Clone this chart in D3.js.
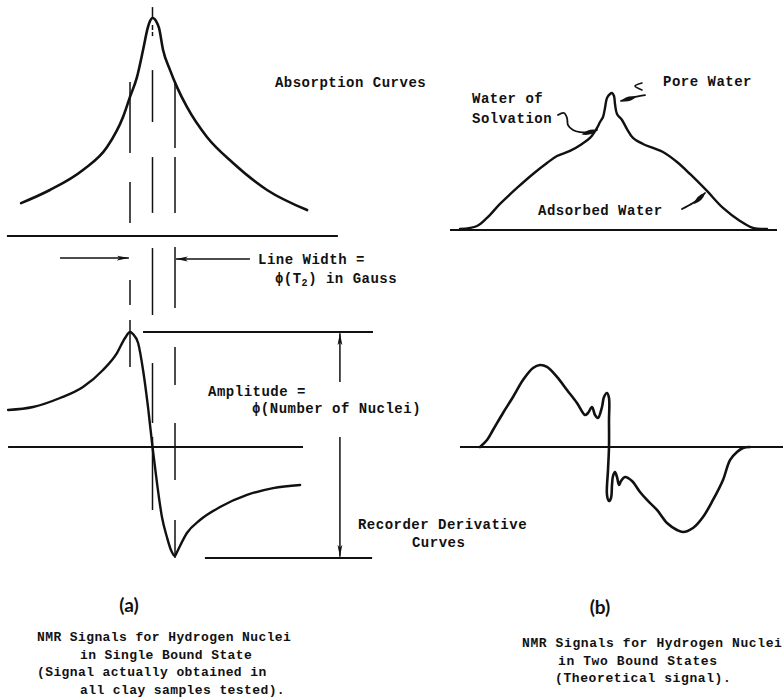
<!DOCTYPE html>
<html>
<head>
<meta charset="utf-8">
<script src="https://cdn.jsdelivr.net/npm/d3@7"></script>
<style>
  html, body { margin: 0; padding: 0; background: #fff; }
  svg { display: block; }
  text { font-family: "Liberation Mono", "DejaVu Sans Mono", monospace; font-weight: bold; fill: #111; }
</style>
</head>
<body>
<svg id="fig" width="783" height="699"></svg>
<script>
// ---------- (a) single bound state ----------
// field offset in line-width units, relative intensity (%)
const absorptionA = [
  [-5.84, 15.1], [-4.56, 21.1], [-3.09, 30.3], [-2.02, 40.8], [-1.31, 54.6],
  [-1.0, 63.8], [-0.69, 72.9], [-0.42, 85.3], [-0.2, 95.9], [-0.11, 98.6],
  [0, 100], [0.16, 98.6], [0.29, 95.4], [0.47, 85.3], [0.78, 76.1],
  [1.09, 68.3], [1.53, 59.2], [2.42, 45.4], [3.58, 33.5], [5.09, 21.1], [6.87, 11.9]
];
// recorder derivative of the same line (% of peak amplitude)
const derivativeA = [
  [-6.42, 32.2], [-5.31, 34.8], [-4.11, 42.6], [-3.09, 52.2], [-2.2, 67.0],
  [-1.58, 81.7], [-1.22, 94.8], [-1.0, 100], [-0.87, 98.3], [-0.64, 90.4],
  [-0.42, 67], [-0.2, 34.8], [0, 0], [0.2, -31.3], [0.42, -60.9],
  [0.64, -78.3], [0.82, -89.6], [1.0, -94.8], [1.09, -91.3], [1.53, -74.8],
  [2.11, -63.5], [3.0, -52.2], [4.2, -41.7], [5.36, -35.7], [6.56, -33.0]
];
// broken guide lines at the half-width points and the line centre
const guidesAbsA = [
  { at: -1, spans: [[70.6, 38.1], [24.8, 6.0]] },
  { at: 0,  spans: [[105, 99.5], [96.8, 94.5], [93.6, 91.7], [76.1, 52.3], [36.2, 10.6]] },
  { at: 1,  spans: [[70.2, 40.4], [36.2, 10.6]] }
];
const guidesDerA = [
  { at: -1, spans: [[145.2, 123.5], [110.4, 69.6]] },
  { at: 0,  spans: [[173, 114.8], [73, 20.9], [8.7, -54.8]] },
  { at: 1,  spans: [[173.9, 120.9], [87, 53.9], [20.9, -28.7], [-63.5, -96.5]] }
];

// ---------- (b) two bound states ----------
const absorptionB = [
  [-15, 0.7], [-13.3, 2.9], [-12.3, 8.8], [-11, 19], [-9.3, 30.7], [-7.7, 40.9],
  [-6.3, 48.9], [-5.3, 54], [-4, 57.7], [-2.8, 62.8], [-2.0, 67.2], [-1.3, 74.5],
  [-1.0, 78.8], [-0.7, 82.5], [-0.5, 89.1], [-0.3, 96.4], [0, 99.3], [0.2, 100],
  [0.4, 97.8], [0.5, 92], [0.7, 84.7], [1.2, 80.3], [1.7, 73.7], [2.3, 67.2],
  [3.3, 62.8], [4.3, 59.9], [5.3, 56.9], [6.7, 49.6], [8.0, 40.9], [9.7, 28.5],
  [11.3, 16.1], [13.0, 6.6], [14.3, 1.5], [15.7, 0.7]
];
const derivativeB = [
  [-13, 0], [-12.3, 8.5], [-11.7, 20.7], [-10.7, 41.5], [-9.7, 61], [-8.7, 81.7],
  [-7.7, 96.3], [-7.0, 100], [-6.3, 97.6], [-5.3, 85.4], [-4.3, 69.5], [-3.3, 53.7],
  [-2.5, 39], [-2.2, 41.5], [-1.8, 48.8], [-1.5, 39], [-1.2, 35.4], [-0.8, 48.8],
  [-0.6, 61], [-0.3, 65.9], [-0.1, 59.8], [-0.1, 32.9], [-0.1, 0], [-0.2, -28],
  [-0.3, -58.5], [-0.1, -65.9], [0.1, -62.2], [0.2, -46.3], [0.3, -35.4], [0.5, -30.5],
  [0.7, -36.6], [0.9, -46.3], [1.1, -41.5], [1.5, -36.6], [2.2, -41.5], [3.0, -54.9],
  [3.7, -64.6], [4.7, -76.8], [5.7, -92.7], [6.7, -101.2], [7.3, -103.7], [8.3, -98.8],
  [9.3, -85.4], [10.3, -64.6], [11.3, -40.2], [12.0, -15.9], [12.7, -6.1], [13.3, -1.2], [14.0, 0]
];
// hand-drawn leader lines pointing at the three water components
const leaderPore = [[3.5, 98.5], [2.5, 97.1], [1.8, 95.6], [1.1, 94.2]];
const tickPore = [[3.2, 107.3], [2.5, 105.1], [3.2, 102.2]];
const leaderSolvation = [[-5.2, 83.9], [-4.6, 85.4], [-4.3, 81.8], [-4.2, 76.6], [-3.7, 73], [-3.0, 71.5], [-2.0, 71.5], [-1.3, 73]];
const leaderAdsorbed = [[7.2, 15.3], [8.3, 19.7], [9.0, 23.4], [9.5, 27]];

const captionA = ["NMR Signals for Hydrogen Nuclei", "in Single Bound State", "(Signal actually obtained in", "all clay samples tested)."];
const captionB = ["NMR Signals for Hydrogen Nuclei", "in Two Bound States", "(Theoretical signal)."];

// ---------- scales ----------
const xA = d3.scaleLinear().domain([-1, 1]).range([130, 175]);
const yAbsA = d3.scaleLinear().domain([0, 100]).range([236, 18]);
const yDerA = d3.scaleLinear().domain([-100, 100]).range([562, 332]);
const xB = d3.scaleLinear().domain([-15, 15]).range([460, 760]);
const yAbsB = d3.scaleLinear().domain([0, 100]).range([230, 93]);
const yDerB = d3.scaleLinear().domain([-100, 100]).range([529, 365]);

const svg = d3.select("#fig");
const ink = "#111";

svg.append("defs").append("marker")
  .attr("id", "head").attr("viewBox", "0 0 12 6").attr("refX", 12).attr("refY", 3)
  .attr("markerWidth", 12).attr("markerHeight", 6).attr("markerUnits", "userSpaceOnUse")
  .attr("orient", "auto")
  .append("path").attr("d", "M0,0.6 L12,3 L0,5.4 L3,3 z").attr("fill", ink);

function curve(data, x, y, width, shape) {
  const gen = d3.line().x(d => x(d[0])).y(d => y(d[1]))
    .curve(shape || d3.curveCatmullRom.alpha(0.5));
  return svg.append("path").datum(data).attr("d", gen)
    .attr("fill", "none").attr("stroke", ink).attr("stroke-width", width)
    .attr("stroke-linejoin", "round").attr("stroke-linecap", "round");
}
function hline(v, u0, u1, x, y, width) {
  return svg.append("line").attr("x1", x(u0)).attr("x2", x(u1)).attr("y1", y(v)).attr("y2", y(v))
    .attr("stroke", ink).attr("stroke-width", width);
}
function vline(u, v0, v1, x, y, width) {
  return svg.append("line").attr("x1", x(u)).attr("x2", x(u)).attr("y1", y(v0)).attr("y2", y(v1))
    .attr("stroke", ink).attr("stroke-width", width);
}
function label(str, u, v, x, y, size) {
  return svg.append("text").attr("x", x(u)).attr("y", y(v)).attr("font-size", size || 14)
    .attr("letter-spacing", 0.5).text(str);
}
// filled tear-drop arrowhead at the end of a leader line
function leader(pts, x, y) {
  curve(pts, x, y, 1.8);
  const n = pts.length;
  const tx = x(pts[n - 1][0]), ty = y(pts[n - 1][1]);
  const px = x(pts[n - 2][0]), py = y(pts[n - 2][1]);
  const len = Math.hypot(tx - px, ty - py) || 1;
  const dx = (tx - px) / len, dy = (ty - py) / len;
  const nx = -dy, ny = dx;
  const mx = tx - dx * 7, my = ty - dy * 7;
  const bx = tx - dx * 16, by = ty - dy * 16;
  svg.append("path")
    .attr("d", `M${tx},${ty} Q${mx + nx * 4.5},${my + ny * 4.5} ${bx},${by} Q${mx - nx * 4.5},${my - ny * 4.5} ${tx},${ty}Z`)
    .attr("fill", ink);
}

// ---------- draw (a) ----------
hline(0, -6.47, 8.24, xA, yAbsA, 2.2);         // absorption baseline
curve(absorptionA, xA, yAbsA, 2.6, d3.curveMonotoneX);
guidesAbsA.forEach(g => g.spans.forEach(s => vline(g.at, s[0], s[1], xA, yAbsA, 1.5)));
guidesDerA.forEach(g => g.spans.forEach(s => vline(g.at, s[0], s[1], xA, yDerA, 1.5)));

// line width arrows
svg.append("line").attr("x1", xA(-4.11)).attr("x2", xA(-1.05)).attr("y1", yDerA(164.3)).attr("y2", yDerA(164.3))
  .attr("stroke", ink).attr("stroke-width", 1.5).attr("marker-end", "url(#head)");
svg.append("line").attr("x1", xA(4.33)).attr("x2", xA(1.04)).attr("y1", yDerA(163.5)).attr("y2", yDerA(163.5))
  .attr("stroke", ink).attr("stroke-width", 1.5).attr("marker-end", "url(#head)");

hline(0, -6.42, 6.69, xA, yDerA, 1.8);          // derivative zero line
curve(derivativeA, xA, yDerA, 2.4, d3.curveMonotoneX);
hline(100, -0.42, 9.8, xA, yDerA, 2);           // amplitude reference lines
hline(-96.5, 2.33, 9.76, xA, yDerA, 2);
// amplitude double arrow
svg.append("line").attr("x1", xA(8.33)).attr("x2", xA(8.33)).attr("y1", yDerA(56.5)).attr("y2", yDerA(99))
  .attr("stroke", ink).attr("stroke-width", 1.5).attr("marker-end", "url(#head)");
svg.append("line").attr("x1", xA(8.33)).attr("x2", xA(8.33)).attr("y1", yDerA(8.7)).attr("y2", yDerA(-95.5))
  .attr("stroke", ink).attr("stroke-width", 1.5).attr("marker-end", "url(#head)");

label("Absorption Curves", 5.44, 68.3, xA, yAbsA);
label("Line Width =", 4.69, 159, xA, yDerA);
const lw = label("", 5.44, 142.6, xA, yDerA);
lw.append("tspan").text("\u03D5(T");
lw.append("tspan").attr("font-size", 10).attr("dy", 3).text("2");
lw.append("tspan").attr("dy", -3).text(") in Gauss");
label("Amplitude =", 2.47, 44.3, xA, yDerA);
label("\u03D5(Number of Nuclei)", 4.42, 29.6, xA, yDerA);
label("Recorder Derivative", 9.13, -71.3, xA, yDerA);
label("Curves", 11.53, -87, xA, yDerA);

// ---------- draw (b) ----------
hline(0, -16, 16.7, xB, yAbsB, 2.2);
curve(absorptionB, xB, yAbsB, 2.4);
leader(leaderPore, xB, yAbsB);
curve(tickPore, xB, yAbsB, 1.6);
leader(leaderSolvation, xB, yAbsB);
leader(leaderAdsorbed, xB, yAbsB);
label("Pore Water", 5.3, 105, xB, yAbsB);
label("Water of", -13.8, 92.7, xB, yAbsB);
label("Solvation", -13.8, 78.1, xB, yAbsB);
label("Adsorbed Water", -7.2, 10.9, xB, yAbsB);

hline(0, -15, 17.3, xB, yDerB, 2);
curve(derivativeB, xB, yDerB, 2.6);

// ---------- panel captions ----------
svg.append("text").attr("x", 129).attr("y", 612).attr("text-anchor", "middle")
  .style("font-family", "Lato, 'Noto Sans', sans-serif").attr("font-size", 19).text("(a)");
svg.append("text").attr("x", 600).attr("y", 614).attr("text-anchor", "middle")
  .style("font-family", "Lato, 'Noto Sans', sans-serif").attr("font-size", 19).text("(b)");

const capA = [[37, 641], [80, 659], [37, 676], [80, 694]];
captionA.forEach((t, i) => svg.append("text").attr("x", capA[i][0]).attr("y", capA[i][1])
  .attr("font-size", 13).attr("letter-spacing", 0.4).text(t));
const capB = [[522, 647], [558, 665], [555, 682]];
captionB.forEach((t, i) => svg.append("text").attr("x", capB[i][0]).attr("y", capB[i][1])
  .attr("font-size", 13).attr("letter-spacing", 0.6).text(t));
</script>
</body>
</html>
